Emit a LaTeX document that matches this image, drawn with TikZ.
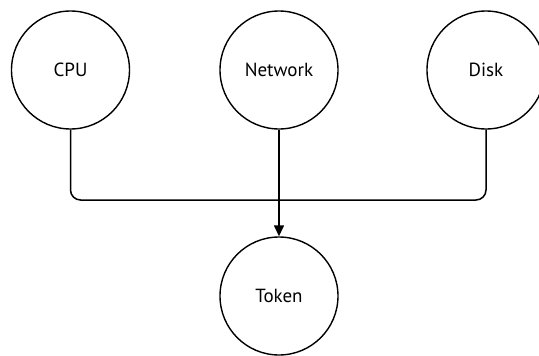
\documentclass[tikz,border=0pt]{standalone}
\usepackage{fontspec}
\setmainfont{PT Sans}
\usetikzlibrary{arrows.meta}
\begin{document}
\begin{tikzpicture}[x=1pt,y=-1pt,
  res/.style={circle,draw,line width=1.4pt,minimum size=118pt,inner sep=0pt,font=\fontsize{19}{22}\selectfont},
  link/.style={line width=1.5pt,rounded corners=10pt},
  arr/.style={line width=1.5pt,-{Triangle[length=11pt,width=10pt]}}]
\useasboundingbox (0,0) rectangle (539,356);
\node[res] (cpu) at (70.5,70) {CPU};
\node[res] (net) at (279,70) {Network};
\node[res] (disk) at (486,70) {Disk};
\node[res] (tok) at (279,296) {Token};
\coordinate (j) at (279,200);
\draw[link] (cpu.south) |- (j);
\draw[link] (disk.south) |- (j);
\draw[arr] (net.south) -- (tok.north);
\end{tikzpicture}
\end{document}
